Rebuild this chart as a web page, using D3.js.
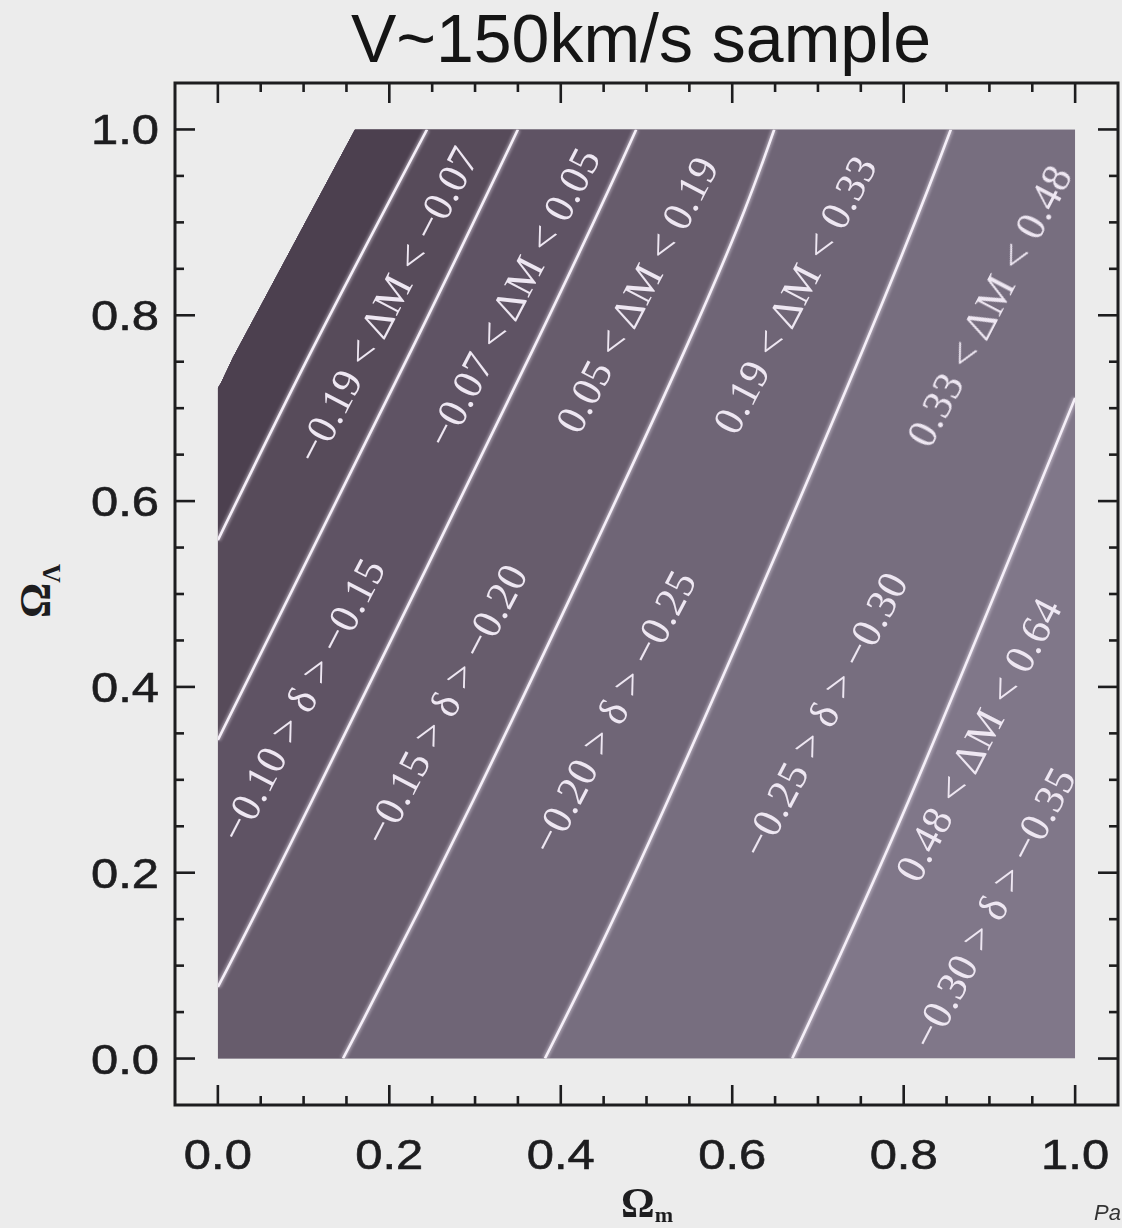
<!DOCTYPE html>
<html>
<head>
<meta charset="utf-8">
<script src="https://cdn.jsdelivr.net/npm/d3@7"></script>
<style>
  html, body { margin: 0; padding: 0; background: #ececec; }
  svg { display: block; }
</style>
</head>
<body>
<svg id="chart" width="1122" height="1228"></svg>
<script>
// Axis ticks
const majorTicks = [0.0, 0.2, 0.4, 0.6, 0.8, 1.0];
const tickLabels = ["0.0", "0.2", "0.4", "0.6", "0.8", "1.0"];

// Allowed region of the (Omega_m, Omega_Lambda) plane: unit square minus the upper-left corner
const domainEdge = [[0, 0], [1, 0], [1, 1], [0.160, 1], [0.0176, 0.7545], [0.0036, 0.727], [0, 0.7217]];

// Contour boundaries, each traced from its lower/left end to its upper/right end
const contour1 = [[0, 0.558], [0.110, 0.763], [0.244, 1.0]];
const contour2 = [[0, 0.343], [0.226, 0.763], [0.350, 1.0]];
const contour3 = [[0, 0.077], [0.110, 0.278], [0.3675, 0.763], [0.488, 1.0]];
const contour4 = [[0.146, 0], [0.298, 0.278], [0.545, 0.763], [0.649, 1.0]];
const contour5 = [[0.3815, 0], [0.525, 0.278], [0.7524, 0.763], [0.855, 1.0]];
const contour6 = [[0.670, 0], [0.806, 0.278], [1.0, 0.711]];
const contours = [contour1, contour2, contour3, contour4, contour5, contour6];

// Band shades, darkest (left of first contour) to lightest (right of last)
const bandColors = ["#4c404f", "#574b5a", "#5f5364", "#675c6c", "#6f6576", "#776e7f", "#807789"];

// Band annotations: text and anchor point (Omega_m, Omega_Lambda)
const bandLabels = [
  "\u22120.19 < \u0394M < \u22120.07",
  "\u22120.07 < \u0394M < 0.05",
  "0.05 < \u0394M < 0.19",
  "0.19 < \u0394M < 0.33",
  "0.33 < \u0394M < 0.48",
  "0.48 < \u0394M < 0.64",
  "\u22120.10 > \u03b4 > \u22120.15",
  "\u22120.15 > \u03b4 > \u22120.20",
  "\u22120.20 > \u03b4 > \u22120.25",
  "\u22120.25 > \u03b4 > \u22120.30",
  "\u22120.30 > \u03b4 > \u22120.35"
];
const bandLabelX = [0.197, 0.344, 0.489, 0.673, 0.900, 0.887, 0.098, 0.265, 0.461, 0.707, 0.904];
const bandLabelY = [0.811, 0.819, 0.822, 0.822, 0.810, 0.343, 0.386, 0.381, 0.373, 0.370, 0.162];
const bandLabelLen = [349, 330, 304, 306, 310, 312, 312, 309, 312, 314, 310];

const svg = d3.select("#chart");
const W = 1122, H = 1228;
svg.append("rect").attr("width", W).attr("height", H).attr("fill", "#ececec");

const frame = { left: 175, right: 1118, top: 83, bottom: 1105 };
const x = d3.scaleLinear().domain([-0.05, 1.05]).range([frame.left, frame.right]);
const y = d3.scaleLinear().domain([-0.05, 1.05]).range([frame.bottom, frame.top]);

const defs = svg.append("defs");
defs.append("clipPath").attr("id", "region")
  .append("path")
  .attr("d", "M" + domainEdge.map(p => [x(p[0]), y(p[1])].join(",")).join("L") + "Z");
const glow = defs.append("filter").attr("id", "glow")
  .attr("x", "-10%").attr("y", "-10%").attr("width", "120%").attr("height", "120%");
glow.append("feGaussianBlur").attr("stdDeviation", 1.6);
const soft = defs.append("filter").attr("id", "soft");
soft.append("feGaussianBlur").attr("stdDeviation", 0.45);

const curve = d3.line().x(p => x(p[0])).y(p => y(p[1])).curve(d3.curveNatural);

const plot = svg.append("g").attr("clip-path", "url(#region)");

// Lightest band everywhere, then each region left of a contour painted over it
plot.append("rect")
  .attr("x", x(0)).attr("y", y(1))
  .attr("width", x(1) - x(0)).attr("height", y(0) - y(1))
  .attr("fill", bandColors[6]);

for (let k = contours.length - 1; k >= 0; k--) {
  const pts = contours[k];
  const first = pts[0], last = pts[pts.length - 1];
  const corners = [];
  if (last[0] >= 1) corners.push([1, 1]);
  corners.push([0, 1]);
  if (first[1] <= 0) corners.push([0, 0]);
  const d = curve(pts) + corners.map(c => "L" + x(c[0]) + "," + y(c[1])).join("") + "Z";
  plot.append("path").attr("d", d).attr("fill", bandColors[k]);
}

// Contour lines: soft halo plus a bright core
contours.forEach(pts => {
  plot.append("path").attr("d", curve(pts))
    .attr("fill", "none").attr("stroke", "#efe6f3").attr("stroke-width", 5.5)
    .attr("opacity", 0.45).attr("filter", "url(#glow)");
  plot.append("path").attr("d", curve(pts))
    .attr("fill", "none").attr("stroke", "#f5eff8").attr("stroke-width", 2.6);
});

// Band annotations, rotated along the contours
const labelG = svg.append("g").attr("filter", "url(#soft)");
bandLabels.forEach((t, i) => {
  labelG.append("text")
    .attr("transform", `translate(${x(bandLabelX[i])},${y(bandLabelY[i])}) rotate(-62.5)`)
    .attr("text-anchor", "middle")
    .attr("dominant-baseline", "central")
    .attr("font-family", "'Liberation Serif', 'Times New Roman', serif")
    .attr("font-size", 42)
    .attr("fill", "#eee7f2")
    .attr("textLength", bandLabelLen[i])
    .attr("lengthAdjust", "spacing")
    .text(t);
});

// Frame
const ink = "#1d1d1f";
svg.append("rect")
  .attr("x", frame.left).attr("y", frame.top)
  .attr("width", frame.right - frame.left).attr("height", frame.bottom - frame.top)
  .attr("fill", "none").attr("stroke", ink).attr("stroke-width", 3);

// Ticks on all four sides, minor every 0.05
const minorTicks = d3.range(0, 1.0001, 0.05).map(v => +v.toFixed(2));
const isMajor = v => majorTicks.some(m => Math.abs(m - v) < 1e-6);
const ticks = svg.append("g").attr("stroke", ink).attr("stroke-width", 2.6);
minorTicks.forEach(v => {
  const len = isMajor(v) ? 20 : 9;
  ticks.append("line").attr("x1", x(v)).attr("x2", x(v)).attr("y1", frame.bottom).attr("y2", frame.bottom - len);
  ticks.append("line").attr("x1", x(v)).attr("x2", x(v)).attr("y1", frame.top).attr("y2", frame.top + len);
  ticks.append("line").attr("y1", y(v)).attr("y2", y(v)).attr("x1", frame.left).attr("x2", frame.left + len);
  ticks.append("line").attr("y1", y(v)).attr("y2", y(v)).attr("x1", frame.right).attr("x2", frame.right - len);
});

// Tick labels
const tickFont = "'Liberation Sans', Arial, sans-serif";
majorTicks.forEach((v, i) => {
  svg.append("text")
    .attr("x", x(v)).attr("y", 1169)
    .attr("text-anchor", "middle")
    .attr("font-family", tickFont).attr("font-size", 42)
    .attr("fill", ink).attr("stroke", ink).attr("stroke-width", 0.6)
    .attr("textLength", 68).attr("lengthAdjust", "spacingAndGlyphs")
    .text(tickLabels[i]);
  svg.append("text")
    .attr("x", 125).attr("y", y(v) + 15)
    .attr("text-anchor", "middle")
    .attr("font-family", tickFont).attr("font-size", 42)
    .attr("fill", ink).attr("stroke", ink).attr("stroke-width", 0.6)
    .attr("textLength", 68).attr("lengthAdjust", "spacingAndGlyphs")
    .text(tickLabels[i]);
});

// Title
svg.append("text")
  .attr("x", 641).attr("y", 62)
  .attr("text-anchor", "middle")
  .attr("font-family", tickFont).attr("font-size", 68)
  .attr("fill", "#151515")
  .text("V~150km/s sample");

// Axis titles
const xt = svg.append("text")
  .attr("x", 621).attr("y", 1217)
  .attr("font-family", "'Liberation Serif', serif").attr("font-weight", "bold")
  .attr("font-size", 42).attr("fill", ink);
xt.append("tspan").text("\u03a9");
xt.append("tspan").attr("font-size", 22).attr("dy", 5).text("m");

const yt = svg.append("text")
  .attr("transform", "translate(50,618) rotate(-90)")
  .attr("font-family", "'Liberation Serif', serif").attr("font-weight", "bold")
  .attr("font-size", 44).attr("fill", ink);
yt.append("tspan").text("\u03a9");
yt.append("tspan").attr("font-size", 26).attr("dy", 10).text("\u039b");

// Running footer at the lower right corner
svg.append("text")
  .attr("x", 1094).attr("y", 1220)
  .attr("font-family", tickFont).attr("font-style", "italic")
  .attr("font-size", 22).attr("fill", "#333")
  .text("Pa");
</script>
</body>
</html>
